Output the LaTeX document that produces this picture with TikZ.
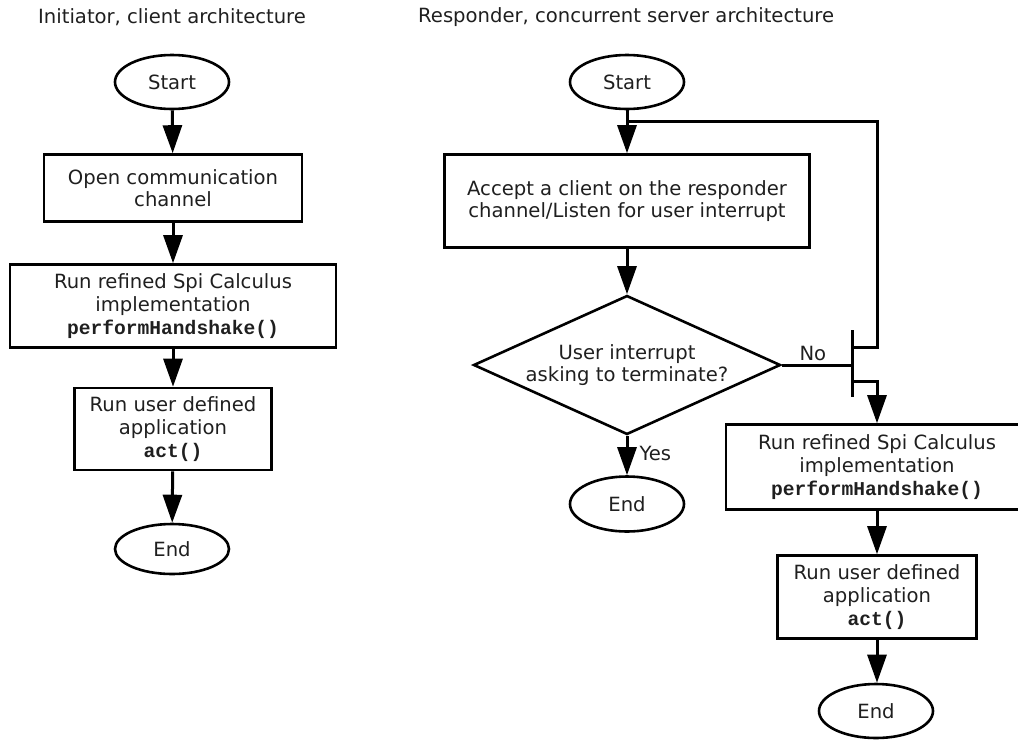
\documentclass[tikz,border=0pt]{standalone}
\usepackage{fontspec}
\setmainfont{DejaVu Sans}
\setmonofont{Liberation Mono}
\usetikzlibrary{arrows.meta,shapes.geometric}
\begin{document}
\begin{tikzpicture}[x=1pt,y=-1pt,
  every node/.style={font=\fontsize{19.6}{22.6}\selectfont, text=black!88},
  box/.style={draw, line width=2.6pt, inner sep=0pt, align=center},
  term/.style={draw, ellipse, line width=2.6pt, minimum width=114pt,
    minimum height=54pt, inner sep=0pt},
  decision/.style={draw, diamond, line width=2.6pt, shape aspect=2.2,
    minimum width=307pt, minimum height=139pt, inner sep=0pt, align=center},
  flow/.style={line width=3pt, -{Triangle[width=19pt,length=28pt]}},
  link/.style={line width=3pt},
  caption/.style={anchor=west, inner sep=0pt},
]
\useasboundingbox (0,0) rectangle (1018,740);

% column titles
\node[caption] (titleL) at (38,17) {Initiator, client architecture};
\node[caption] (titleR) at (418,17) {Responder, concurrent server architecture};

% ---------- initiator ----------
\node[term] (startL) at (172,82) {Start};
\node[box, minimum width=258pt, minimum height=67pt] (openL) at (173,188)
  {Open communication\\channel};
\node[box, minimum width=326pt, minimum height=83pt] (runL) at (173,306)
  {Run refined Spi Calculus\\implementation\\\texttt{\bfseries performHandshake()}};
\node[box, minimum width=197pt, minimum height=82pt] (appL) at (173,429)
  {Run user defined\\application\\\texttt{\bfseries act()}};
\node[term, minimum height=50pt] (endL) at (172,549) {End};

\draw[flow] (startL) -- (openL);
\draw[flow] (openL) -- (runL);
\draw[flow] (runL) -- (appL);
\draw[flow] (appL) -- (endL);

% ---------- responder ----------
\node[term] (startR) at (627,82) {Start};
\node[box, minimum width=365pt, minimum height=93pt] (accept) at (627,201)
  {Accept a client on the responder\\channel/Listen for user interrupt};
\node[decision] (dec) at (627,365) {User interrupt\\asking to terminate?};
\node[term, minimum height=55pt] (endR) at (627,504) {End};
\node[box, minimum width=302pt, minimum height=85pt] (runR) at (877,467)
  {Run refined Spi Calculus\\implementation\\\texttt{\bfseries performHandshake()}};
\node[box, minimum width=199pt, minimum height=83pt] (appR) at (877,597)
  {Run user defined\\application\\\texttt{\bfseries act()}};
\node[term, minimum height=54pt] (endR2) at (876,711) {End};

% fork bar and its branch points
\coordinate (barTop) at (852,330);
\coordinate (barBot) at (852,397);
\coordinate (barIn) at (852,365);
\coordinate (forkUp) at (852,347);
\coordinate (forkDown) at (852,381);
\coordinate (loopCorner) at (877,121);
\coordinate (join) at (627,121);
\draw[link] (barTop) -- (barBot);

\draw[flow] (startR) -- (accept);
\draw[flow] (accept) -- (dec);
\draw[flow] (dec) -- node[anchor=west, inner sep=0pt, pos=0.45, xshift=11pt] {Yes} (endR);
\draw[link] (dec.east) -- node[above, inner sep=3pt, xshift=-4pt] {No} (barIn);
\draw[link] (forkUp) -| (loopCorner) -- (join);
\draw[flow] (forkDown) -| (runR.north);
\draw[flow] (runR) -- (appR);
\draw[flow] (appR.south) -- (appR.south |- endR2.north);
\end{tikzpicture}
\end{document}
